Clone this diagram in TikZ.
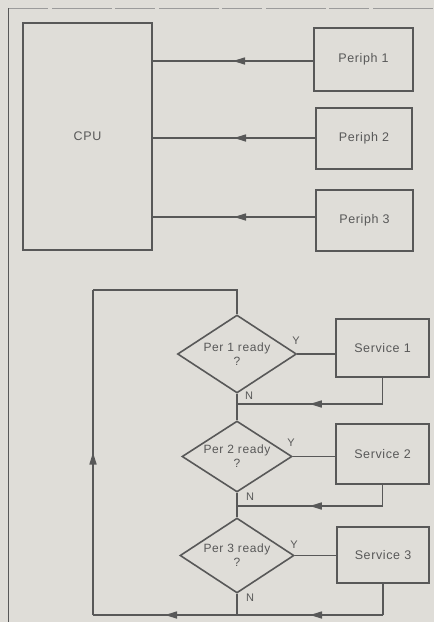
\documentclass[tikz,border=0pt]{standalone}
\usepackage{fontspec}
\setmainfont{Liberation Sans}[LetterSpace=5]
\usetikzlibrary{shapes.geometric,arrows.meta,decorations.markings}
\definecolor{bg}{RGB}{223,221,216}
\definecolor{ink}{RGB}{88,88,88}
\begin{document}
\begin{tikzpicture}[x=1pt,y=-1pt,
  wire/.style={draw=ink, line width=1.6pt},
  box/.style={draw=ink, line width=1.6pt, text=ink, inner sep=0pt,
    font=\fontsize{12.5}{14}\selectfont},
  decbox/.style={diamond, aspect=1.5, draw=ink, line width=1.6pt, text=ink,
    inner sep=0pt, align=center, font=\fontsize{12}{14}\selectfont},
  lbl/.style={text=ink, inner sep=0pt, font=\fontsize{11}{12}\selectfont},
  midarrow/.style={wire, postaction={decorate},
    decoration={markings, mark=at position 0.5 with {\arrow{Triangle[length=12pt,width=7pt]}}}}
  ]
\useasboundingbox[fill=bg] (0,0) rectangle (434,622);
% frame
\coordinate (ftl) at (8,8);
\coordinate (ftr) at (434,8);
\coordinate (fbl) at (8,622);
\draw[draw=ink!60, line width=0.6pt, dash pattern=on 40pt off 4pt on 60pt off 3pt] (ftl) -- (ftr);
\draw[wire, line width=1pt] (ftl) -- (fbl);

% upper block diagram
\node[box, minimum width=129pt, minimum height=227pt] (cpu) at (87.5,136.5) {CPU};
\node[box, minimum width=99pt, minimum height=63pt] (p1) at (363.5,59.5) {Periph 1};
\node[box, minimum width=96pt, minimum height=61pt] (p2) at (364,138.5) {Periph 2};
\node[box, minimum width=97pt, minimum height=61pt] (p3) at (364.5,220.5) {Periph 3};
\draw[midarrow] (p1.west) ++(0,-1.5pt) coordinate (p1w) -- (p1w -| cpu.east);
\draw[midarrow] (p2.west) ++(0,0.5pt) coordinate (p2w) -- (p2w -| cpu.east);
\draw[midarrow] (p3.west) ++(0,3.5pt) coordinate (p3w) -- (p3w -| cpu.east);

% flowchart
\node[decbox, minimum width=119pt, minimum height=78pt] (d1) at (237,354) {Per 1 ready\\?};
\node[decbox, minimum width=110pt, minimum height=71pt] (d2) at (237,456.5) {Per 2 ready\\?};
\node[decbox, minimum width=114pt, minimum height=75pt] (d3) at (237,555.5) {Per 3 ready\\?};
\node[box, minimum width=93pt, minimum height=58pt] (s1) at (382.5,348) {Service 1};
\node[box, minimum width=93pt, minimum height=60pt] (s2) at (382.5,454) {Service 2};
\node[box, minimum width=92pt, minimum height=56pt] (s3) at (383,555) {Service 3};

\node[lbl] (y1) at (296,341) {Y};
\node[lbl] (y2) at (291,443) {Y};
\node[lbl] (y3) at (294,545) {Y};
\node[lbl] (n1) at (249,396) {N};
\node[lbl] (n2) at (250,497) {N};
\node[lbl] (n3) at (250,598) {N};

% yes branches
\draw[wire] (d1.east) -- (d1.east -| s1.west);
\draw[wire] (d2.east) -- (d2.east -| s2.west);
\draw[wire] (d3.east) -- (d3.east -| s3.west);

% junctions on trunk
\coordinate (j1) at (237,404);
\coordinate (j2) at (237,506);
\coordinate (j3) at (237,615);
\coordinate (bl) at (93,615);
\coordinate (tl) at (93,290);
\coordinate (tr) at (237,290);

\draw[wire] (d1.south) -- (j1) -- (d2.north);
\draw[wire] (d2.south) -- (j2) -- (d3.north);
\draw[wire] (d3.south) -- (j3);

\draw[wire] (s1.south) -- (s1.south |- j1) coordinate (c1);
\draw[midarrow] (c1) -- (j1);
\draw[wire] (s2.south) -- (s2.south |- j2) coordinate (c2);
\draw[midarrow] (c2) -- (j2);
\draw[wire] (s3.south) -- (s3.south |- j3) coordinate (c3);
\draw[midarrow] (c3) -- (j3);

\draw[midarrow] (j3) -- (bl);
\draw[midarrow] (bl) -- (tl);
\draw[wire] (tl) -- (tr) -- (d1.north);
\end{tikzpicture}
\end{document}
